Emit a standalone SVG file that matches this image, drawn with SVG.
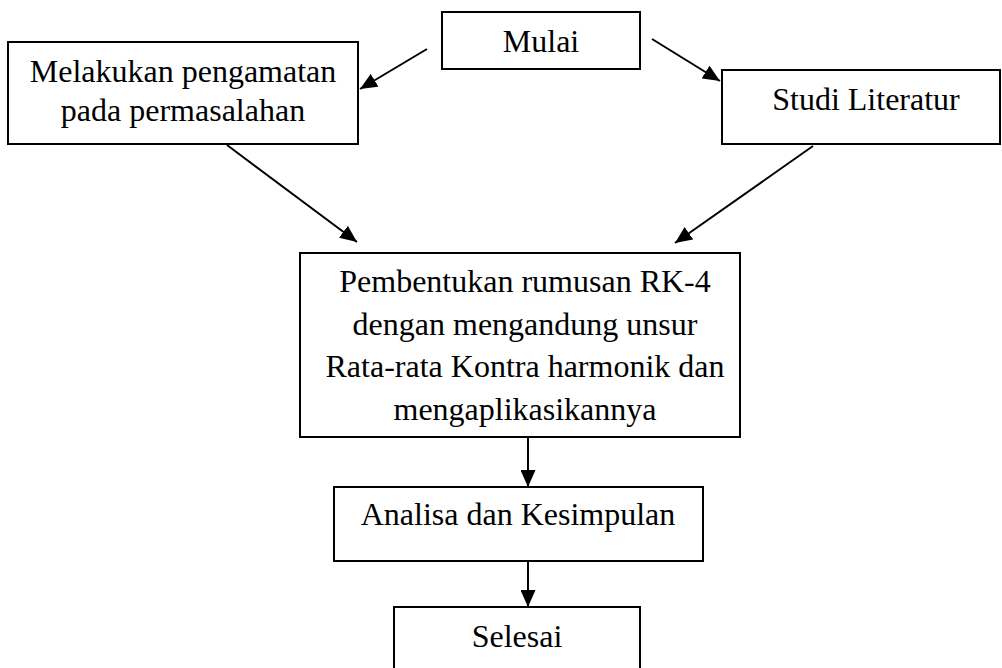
<svg xmlns="http://www.w3.org/2000/svg" width="1002" height="668" viewBox="0 0 1002 668">
<style>
.box{fill:#fff;stroke:#000;stroke-width:2}
.t{font-family:"Liberation Serif","Times New Roman",serif;font-size:32px;fill:#000;text-anchor:middle}
.c{stroke:#000;stroke-width:2;fill:none;marker-end:url(#ah)}
</style>
<defs>
<marker id="ah" viewBox="0 0 17 15" refX="17" refY="7.5" markerWidth="17" markerHeight="15" markerUnits="userSpaceOnUse" orient="auto">
<path d="M0,0 L17,7.5 L0,15 z" fill="#000"/>
</marker>
</defs>
<rect width="1002" height="668" fill="#fff"/>
<g id="connectors">
<line class="c" x1="427" y1="49" x2="360" y2="89"/>
<line class="c" x1="652" y1="39" x2="720" y2="81"/>
<line class="c" x1="227" y1="145" x2="357" y2="242"/>
<line class="c" x1="813" y1="146" x2="675" y2="243"/>
<line class="c" x1="528" y1="437" x2="528" y2="487"/>
<line class="c" x1="528" y1="561" x2="528" y2="607"/>
</g>
<g id="mulai">
<rect class="box" x="442" y="12" width="198" height="57"/>
<text class="t" x="541" y="52">Mulai</text>
</g>
<g id="pengamatan">
<rect class="box" x="8" y="42" width="350" height="102"/>
<text class="t" x="183" y="82">Melakukan pengamatan</text>
<text class="t" x="183" y="121">pada permasalahan</text>
</g>
<g id="studi">
<rect class="box" x="722" y="70" width="278" height="74"/>
<text class="t" x="866" y="110">Studi Literatur</text>
</g>
<g id="pembentukan">
<rect class="box" x="300" y="253" width="440" height="184"/>
<text class="t" x="525" y="292">Pembentukan rumusan RK-4</text>
<text class="t" x="525" y="334.5">dengan mengandung unsur</text>
<text class="t" x="525" y="377">Rata-rata Kontra harmonik dan</text>
<text class="t" x="525" y="419.5">mengaplikasikannya</text>
</g>
<g id="analisa">
<rect class="box" x="334" y="487" width="369" height="74"/>
<text class="t" x="518" y="525">Analisa dan Kesimpulan</text>
</g>
<g id="selesai">
<rect class="box" x="394" y="607" width="246" height="80"/>
<text class="t" x="517" y="647">Selesai</text>
</g>
</svg>
